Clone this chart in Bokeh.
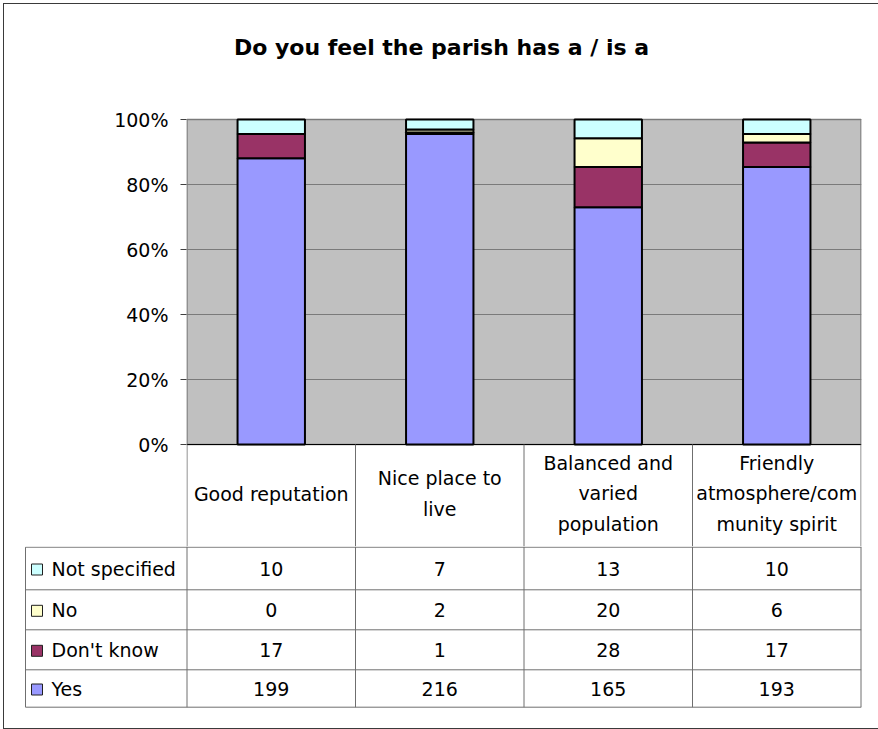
from bokeh.plotting import figure
from bokeh.layouts import column
from bokeh.models import Range1d, FixedTicker, NumeralTickFormatter
from bokeh.core.properties import value
from bokeh.embed import file_html
from bokeh.resources import INLINE

# ---- data -------------------------------------------------------------
title_text = "Do you feel the parish has a / is a"
categories = [
    "Good reputation",
    "Nice place to live",
    "Balanced and varied population",
    "Friendly atmosphere/community spirit",
]
category_lines = [
    "Good reputation",
    "Nice place to\nlive",
    "Balanced and\nvaried\npopulation",
    "Friendly\natmosphere/com\nmunity spirit",
]
series_names = ["Yes", "Don't know", "No", "Not specified"]
yes = [199, 216, 165, 193]
dont_know = [17, 1, 28, 17]
no = [0, 2, 20, 6]
not_specified = [10, 7, 13, 10]
series_colors = ["#9999FF", "#993366", "#FFFFCC", "#CCFFFF"]
y_ticks = [0, 0.2, 0.4, 0.6, 0.8, 1.0]

series_values = [yes, dont_know, no, not_specified]

# ---- layout (page pixels) ----------------------------------------------
FONT = "DejaVu Sans"
TEXT_SIZE = "19px"
LINE_GREY = "#6f6f6f"
INNER_W = 874            # chart width inside the outer border
TOP_H, BOT_H = 542, 182  # upper figure (plot + headers) and table rows
X0, Y0 = 4, 4            # page position of the chart content
AREA_L, AREA_R = 186.5, 860.5
AREA_T, AREA_B = 119.0, 444.0
FRAME_L, FRAME_R = 186, 861
SPLIT_Y = Y0 + TOP_H     # 546
BOTTOM_Y = SPLIT_Y + BOT_H
unit_x = (AREA_R - AREA_L) / len(categories)
unit_y = AREA_B - AREA_T
row_edges = [546.7, 589.3, 629.3, 669.3, 706.7]
TABLE_L = 25.0

n = len(categories)
centers = [i + 0.5 for i in range(n)]
totals = [sum(s[i] for s in series_values) for i in range(n)]

# ---- upper figure: stacked 100% columns --------------------------------
p1 = figure(
    width=INNER_W, height=TOP_H,
    x_range=Range1d((FRAME_L - AREA_L) / unit_x, n + (FRAME_R - AREA_R) / unit_x),
    y_range=Range1d(-(SPLIT_Y - AREA_B) / unit_y, 1 + (AREA_T - Y0) / unit_y),
    output_backend="svg", toolbar_location=None, x_axis_location=None,
    min_border_left=FRAME_L - X0, min_border_right=X0 + INNER_W - FRAME_R,
    min_border_top=0, min_border_bottom=0, frame_align=False,
)
p1.extra_x_ranges = {"px": Range1d(FRAME_L, FRAME_R)}
p1.extra_y_ranges = {"px": Range1d(SPLIT_Y, Y0)}
p1.outline_line_color = None
p1.background_fill_color = "white"
p1.border_fill_color = "white"
p1.xgrid.visible = False
p1.ygrid.ticker = FixedTicker(ticks=y_ticks)
p1.ygrid.grid_line_color = "#7a7a7a"
p1.ygrid.grid_line_width = 1

yax = p1.yaxis[0]
yax.ticker = FixedTicker(ticks=y_ticks)
yax.formatter = NumeralTickFormatter(format="0%")
yax.axis_line_color = None
yax.major_tick_out = 6
yax.major_tick_in = 0
yax.minor_tick_out = 0
yax.minor_tick_in = 0
yax.major_tick_line_color = "#404040"
yax.major_label_text_font = FONT
yax.major_label_text_font_size = TEXT_SIZE
yax.major_label_text_color = "black"
yax.major_label_standoff = 12

# grey plot area
p1.quad(left=[AREA_L], right=[AREA_R], bottom=[0], top=[1],
        x_range_name="px", fill_color="#C0C0C0", line_color="#808080",
        line_width=1.5, level="image")

# stacked segments
running = [0.0] * n
for name, vals, col in zip(series_names, series_values, series_colors):
    bottoms = [running[i] / totals[i] for i in range(n)]
    running = [running[i] + vals[i] for i in range(n)]
    tops = [running[i] / totals[i] for i in range(n)]
    p1.vbar(x=centers, width=0.4, bottom=bottoms, top=tops,
            fill_color=col, line_color="black", line_width=2)

# category axis line
p1.segment(x0=[0], x1=[n], y0=[0], y1=[0], line_color="black", line_width=1.2)

# header cells of the data table
p1.segment(x0=list(range(n + 1)), x1=list(range(n + 1)),
           y0=[AREA_B] * (n + 1), y1=[SPLIT_Y] * (n + 1),
           y_range_name="px", line_color=LINE_GREY, line_width=1)
p1.text(x=centers, y=[493] * n, text=category_lines, y_range_name="px",
        text_align="center", text_baseline="middle",
        text_font=value(FONT), text_font_size=TEXT_SIZE,
        text_line_height=1.38, text_color="black")

# chart title
p1.text(x=[441], y=[47], text=[title_text], x_range_name="px", y_range_name="px",
        text_align="center", text_baseline="alphabetic",
        text_font=value(FONT), text_font_style="bold",
        text_font_size="22px", text_color="black")

# ---- lower figure: data table rows --------------------------------------
p2 = figure(
    width=INNER_W, height=BOT_H,
    x_range=Range1d((X0 - AREA_L) / unit_x, n + (X0 + INNER_W - AREA_R) / unit_x),
    y_range=Range1d(BOTTOM_Y, SPLIT_Y),
    output_backend="svg", toolbar_location=None,
    x_axis_location=None, y_axis_location=None,
    min_border=0, frame_align=False,
)
p2.extra_x_ranges = {"px": Range1d(X0, X0 + INNER_W)}
p2.outline_line_color = None
p2.grid.visible = False
p2.background_fill_color = "white"
p2.border_fill_color = "white"

table_r = AREA_R + 0.2
p2.segment(x0=[TABLE_L] * len(row_edges), x1=[table_r] * len(row_edges),
           y0=row_edges, y1=row_edges, x_range_name="px",
           line_color=LINE_GREY, line_width=1)
p2.segment(x0=[TABLE_L], x1=[TABLE_L], y0=[row_edges[0]], y1=[row_edges[-1]],
           x_range_name="px", line_color=LINE_GREY, line_width=1)
p2.segment(x0=list(range(n + 1)), x1=list(range(n + 1)),
           y0=[SPLIT_Y] * (n + 1), y1=[row_edges[-1]] * (n + 1),
           line_color=LINE_GREY, line_width=1)

row_centers = [(row_edges[k] + row_edges[k + 1]) / 2 for k in range(len(row_edges) - 1)]
rows_top_down = list(zip(series_names, series_values, series_colors))[::-1]

p2.scatter(x=[36.5] * len(rows_top_down), y=[c + 1 for c in row_centers],
           marker="square", size=11, x_range_name="px",
           fill_color=[r[2] for r in rows_top_down], line_color="#202020", line_width=1)
p2.text(x=[51] * len(rows_top_down), y=row_centers,
        text=[r[0] for r in rows_top_down], x_range_name="px",
        text_align="left", text_baseline="middle",
        text_font=value(FONT), text_font_size=TEXT_SIZE, text_color="black")

for yc, (name, vals, col) in zip(row_centers, rows_top_down):
    p2.text(x=centers, y=[yc] * n, text=[str(v) for v in vals],
            text_align="center", text_baseline="middle",
            text_font=value(FONT), text_font_size=TEXT_SIZE, text_color="black")

layout = column(
    p1, p2,
    styles={
        "margin-left": "3px", "margin-top": "3px",
        "border-left": "1px solid #3a3a3a",
        "border-top": "1px solid #3a3a3a",
        "border-bottom": "1px solid #3a3a3a",
    },
)

open("out.html", "w").write(file_html(layout, INLINE))
